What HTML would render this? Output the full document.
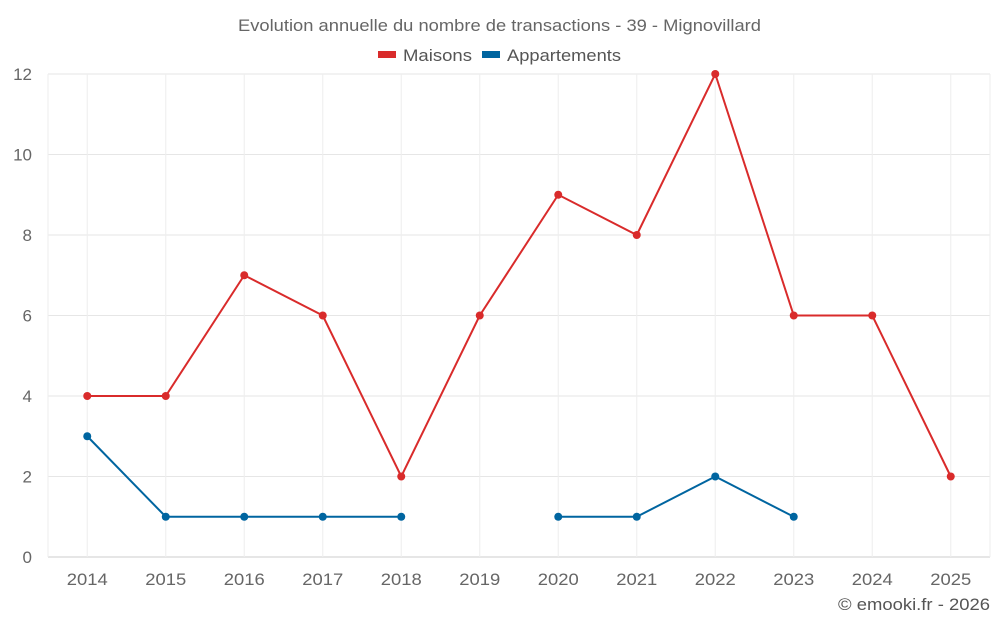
<!DOCTYPE html>
<html><head><meta charset="utf-8"><style>
body{margin:0;background:#fff;}
svg{display:block;font-family:"Liberation Sans",sans-serif;}
</style></head><body>
<svg id="chart" width="1000" height="625">
<text x="238" y="31" font-size="17" fill="#666" textLength="523" lengthAdjust="spacingAndGlyphs">Evolution annuelle du nombre de transactions - 39 - Mignovillard</text>
<g><rect x="378" y="51" width="18" height="7" fill="#d92b2b"/><text x="403" y="61" font-size="17" fill="#555" textLength="69" lengthAdjust="spacingAndGlyphs">Maisons</text></g>
<g><rect x="482" y="51" width="18" height="7" fill="#0065a0"/><text x="507" y="61" font-size="17" fill="#555" textLength="114" lengthAdjust="spacingAndGlyphs">Appartements</text></g>
<g id="grid"></g><g id="axes"></g><g id="series"></g>
<text x="838" y="610" font-size="17" fill="#555" textLength="152" lengthAdjust="spacingAndGlyphs">© emooki.fr - 2026</text>
</svg>
<script>
const years=["2014","2015","2016","2017","2018","2019","2020","2021","2022","2023","2024","2025"];
const maisons=[4,4,7,6,2,6,9,8,12,6,6,2];
const appartements=[3,1,1,1,1,null,1,1,2,1,null,null];
const yTicks=[0,2,4,6,8,10,12];
const NS="http://www.w3.org/2000/svg";
const L=48,R=990,T=74,B=557,yMax=12;
const bw=(R-L)/years.length;
const xs=i=>L+bw*(i+0.5);
const ys=v=>B-(B-T)*v/yMax;
function mk(tag,attrs,parent){const e=document.createElementNS(NS,tag);for(const k in attrs)e.setAttribute(k,attrs[k]);parent.appendChild(e);return e;}
const grid=document.getElementById('grid'),axes=document.getElementById('axes'),ser=document.getElementById('series');
yTicks.forEach(v=>{
 const l=mk('line',{x1:L,x2:R,y1:ys(v),y2:ys(v),stroke:v===0?'#ccc':'#e6e6e6','stroke-width':1},grid);
 
 
 const t=mk('text',{x:32,y:ys(v)+6,'text-anchor':'end','font-size':17,fill:'#666'},axes);
 t.textContent=v;
 
 
});
[L,R].forEach(x=>{const l=mk('line',{x1:x,x2:x,y1:T,y2:B,stroke:'#eee'},grid);
 
 });
years.forEach((y,i)=>{
 const l=mk('line',{x1:xs(i),x2:xs(i),y1:T,y2:B,stroke:'#eee'},grid);
 
 
 const t=mk('text',{x:xs(i),y:585,'text-anchor':'middle','font-size':17,fill:'#666',textLength:41,lengthAdjust:'spacingAndGlyphs'},axes);
 t.textContent=y;
 
 
});
function draw(data,color,name){
 let d='',pen=false;
 data.forEach((v,i)=>{if(v===null){pen=false;return;}d+=(pen?'L':'M')+xs(i)+' '+ys(v)+' ';pen=true;});
 const p=mk('path',{d:d,fill:'none',stroke:color,'stroke-width':2},ser);
 
 
 data.forEach((v,i)=>{if(v===null)return;
  const c=mk('circle',{cx:xs(i),cy:ys(v),r:4,fill:color},ser);
  
  });
}
draw(maisons,'#d92b2b','maisons');
draw(appartements,'#0065a0','appartements');
</script>
</body></html>
